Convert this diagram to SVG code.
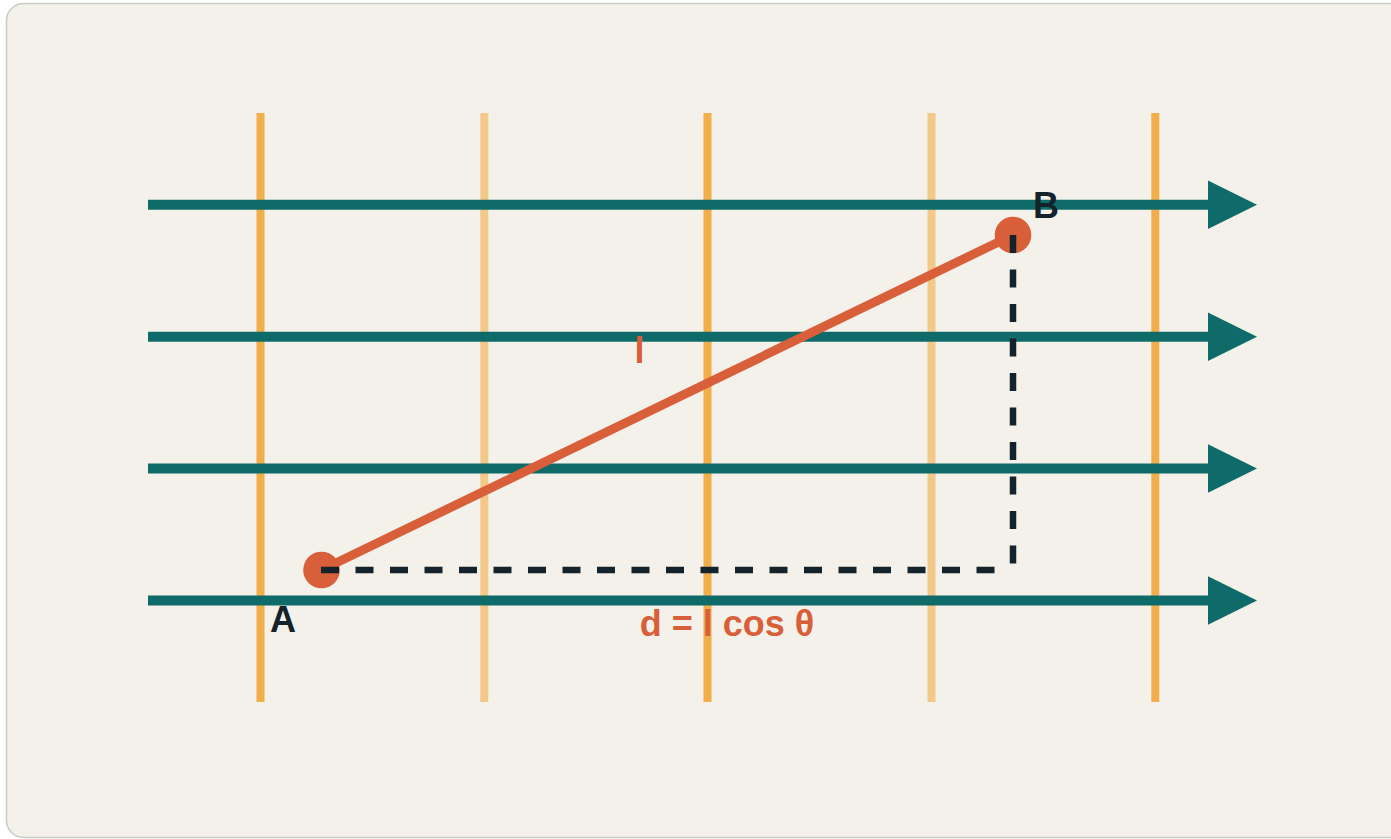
<svg xmlns="http://www.w3.org/2000/svg" width="1391" height="839" viewBox="0 0 1391 839">
  <defs>
    <style>
      .grid { stroke: #f2ae4a; stroke-width: 8; fill: none; }
      .grid.light { stroke: #f3c98a; }
      .field { stroke: #0e6b69; stroke-width: 10; fill: none; }
      .head { fill: #0e6b69; }
      .path { stroke: #d95f3a; stroke-width: 9; fill: none; }
      .pt { fill: #d95f3a; }
      .dash { stroke: #13222b; stroke-width: 6.5; fill: none; stroke-dasharray: 18 16.5; }
      .lbl { font-family: "Liberation Sans", Arial, sans-serif; font-weight: bold; font-size: 36px; }
      .dark { fill: #13222b; }
      .accent { fill: #d95f3a; }
    </style>
  </defs>
  <rect x="6.5" y="3.5" width="1400" height="834" rx="17" ry="17" fill="#f3f1e9" stroke="#c9cec3" stroke-width="1.5"/>

  <g id="grid-lines">
    <line class="grid" x1="260.5" y1="113" x2="260.5" y2="702"/>
    <line class="grid light" x1="484.3" y1="113" x2="484.3" y2="702"/>
    <line class="grid" x1="707.5" y1="113" x2="707.5" y2="702"/>
    <line class="grid light" x1="931.5" y1="113" x2="931.5" y2="702"/>
    <line class="grid" x1="1155.3" y1="113" x2="1155.3" y2="702"/>
  </g>

  <g id="field-lines">
    <line class="field" x1="148" y1="204.7" x2="1212" y2="204.7"/>
    <polygon class="head" points="1208,180.5 1257,204.7 1208,229"/>
    <line class="field" x1="148" y1="336.7" x2="1212" y2="336.7"/>
    <polygon class="head" points="1208,312.5 1257,336.7 1208,361"/>
    <line class="field" x1="148" y1="468.5" x2="1212" y2="468.5"/>
    <polygon class="head" points="1208,444.3 1257,468.5 1208,492.8"/>
    <line class="field" x1="148" y1="600.5" x2="1212" y2="600.5"/>
    <polygon class="head" points="1208,576.3 1257,600.5 1208,624.8"/>
  </g>

  <g id="path-AB">
    <line class="path" x1="321.5" y1="570" x2="1013" y2="235"/>
  </g>

  <g id="point-A">
    <circle class="pt" cx="321.5" cy="570" r="18.3"/>
    <text class="lbl dark" x="270" y="632">A</text>
  </g>
  <g id="point-B">
    <circle class="pt" cx="1013" cy="235" r="18.3"/>
    <text class="lbl dark" x="1033" y="217.5">B</text>
  </g>

  <g id="connectors">
    <line class="dash" x1="321" y1="570" x2="1000" y2="570"/>
    <line class="dash" x1="1013" y1="235" x2="1013" y2="570"/>
  </g>

  <g id="labels">
    <text class="lbl accent" x="639.5" y="363" text-anchor="middle">l</text>
    <text class="lbl accent" x="727" y="636" text-anchor="middle">d = l cos θ</text>
  </g>
</svg>
